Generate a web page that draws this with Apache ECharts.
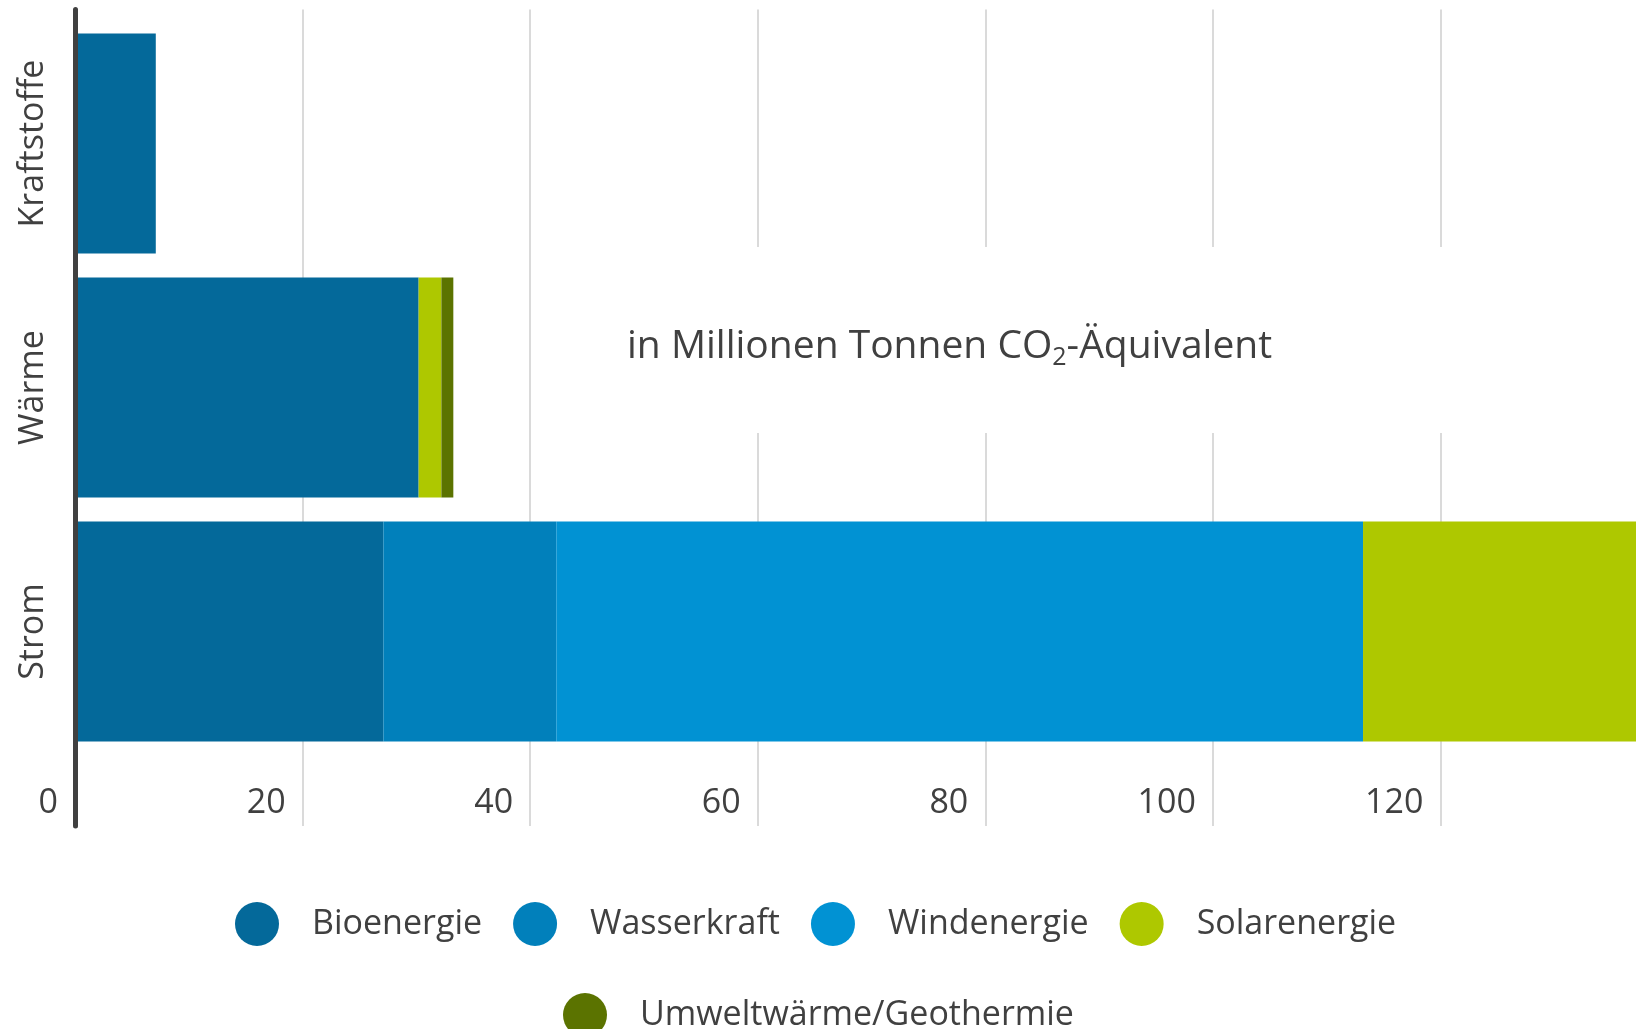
<!DOCTYPE html>
<html>
<head>
<meta charset="utf-8">
<script src="https://cdn.jsdelivr.net/npm/echarts@6/dist/echarts.min.js"></script>
<style>
html,body{margin:0;padding:0;background:#fff;overflow:hidden;}
#chart{width:1660px;height:1029px;}
</style>
</head>
<body>
<div id="chart"></div>
<script>
const categories = ['Kraftstoffe', 'Wärme', 'Strom'];
const seriesNames = ['Bioenergie', 'Wasserkraft', 'Windenergie', 'Solarenergie', 'Umweltwärme/Geothermie'];
const bioenergie = [7.1, 30.2, 27.1];
const wasserkraft = [0, 0, 15.2];
const windenergie = [0, 0, 70.9];
const solarenergie = [0, 2.0, 24.5];
const umweltwaerme = [0, 1.05, 0];
const seriesValues = [bioenergie, wasserkraft, windenergie, solarenergie, umweltwaerme];
const colors = ['#04699A', '#0180BB', '#0192D3', '#AEC800', '#5B7300'];
const tickInterval = 20;
const xMin = 0;
const xMax = 139.3;
const note = 'in Millionen Tonnen CO';

const FONT = 'Open Sans';
const TXT = '#404040';

const chart = echarts.init(document.getElementById('chart'), null, {renderer: 'canvas'});

const series = seriesNames.map((name, i) => ({
  name: name,
  type: 'bar',
  stack: 'total',
  xAxisIndex: 1,
  yAxisIndex: 1,
  barWidth: 220,
  itemStyle: {color: colors[i]},
  emphasis: {disabled: true},
  data: seriesValues[i]
}));

const option = {
  animation: false,
  textStyle: {fontFamily: FONT},
  grid: [
    {left: 75, right: 0, top: 9.5, bottom: 203},
    {left: 75, right: 0, top: 21.5, bottom: 275.5}
  ],
  xAxis: [
    {
      type: 'value', gridIndex: 0, min: xMin, max: xMax, interval: tickInterval,
      axisLine: {show: false}, axisTick: {show: false},
      splitLine: {show: true, lineStyle: {color: '#dadada', width: 2}},
      axisLabel: {
        inside: true, margin: 6, align: 'right', padding: [0, 17, 0, 0],
        fontSize: 34, color: TXT, fontFamily: FONT, showMaxLabel: false,
        formatter: v => (v % tickInterval === 0 ? String(v) : '')
      }
    },
    {
      type: 'value', gridIndex: 1, min: xMin, max: xMax, interval: tickInterval,
      show: false, splitLine: {show: false}
    }
  ],
  yAxis: [
    {
      type: 'value', gridIndex: 0, z: 5,
      axisLine: {show: true, lineStyle: {color: '#404040', width: 5}},
      axisTick: {show: false}, axisLabel: {show: false}, splitLine: {show: false}
    },
    {
      type: 'category', gridIndex: 1, data: categories, inverse: true,
      axisLine: {show: false}, axisTick: {show: false},
      axisLabel: {rotate: 90, margin: 25, fontSize: 34, color: TXT, fontFamily: FONT}
    }
  ],
  graphic: [
    {type: 'rect', shape: {x: 600, y: 247, width: 1100, height: 186}, style: {fill: '#ffffff'}, z: 1, silent: true}
  ],
  title: {
    text: '{a|' + note + '}{s|2}{a|-Äquivalent}',
    left: 627, top: 322, padding: 0, z: 6,
    textStyle: {
      fontWeight: 'normal',
      rich: {
        a: {fontSize: 39, fontWeight: 'normal', color: TXT, fontFamily: FONT, lineHeight: 50},
        s: {fontSize: 25, fontWeight: 'normal', color: TXT, fontFamily: FONT, lineHeight: 50, padding: [22, 0, 0, 0]}
      }
    }
  },
  legend: [
    {
      data: seriesNames.slice(0, 4), left: 230, top: 897, orient: 'horizontal',
      icon: 'circle', symbolKeepAspect: false, itemWidth: 48, itemHeight: 44, itemGap: 31,
      selectedMode: false,
      textStyle: {fontSize: 34, color: TXT, fontFamily: FONT, padding: [0, 0, 0, 26]}
    },
    {
      data: seriesNames.slice(4), left: 558, top: 988, orient: 'horizontal',
      icon: 'circle', symbolKeepAspect: false, itemWidth: 48, itemHeight: 44, itemGap: 31,
      selectedMode: false,
      textStyle: {fontSize: 34, color: TXT, fontFamily: FONT, padding: [0, 0, 0, 26]}
    }
  ],
  series: series
};
chart.setOption(option);
</script>
</body>
</html>
